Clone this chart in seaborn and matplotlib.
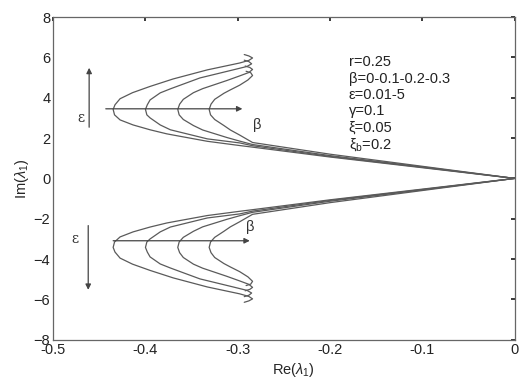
import matplotlib
matplotlib.use("Agg")
import matplotlib.pyplot as plt
import seaborn as sns
import pandas as pd

# Eigenvalue loci (upper branch, epsilon increasing from the origin outward)
re_b0 = [0, -0.10, -0.20, -0.284, -0.298, -0.333, -0.370, -0.377, -0.395, -0.4134, -0.4275, -0.4335, -0.435,
         -0.433, -0.4275, -0.414, -0.395, -0.370, -0.333, -0.298, -0.288, -0.284, -0.288, -0.293]
im_b0 = [0, 0.53, 1.06, 1.55, 1.63, 1.84, 2.15, 2.21, 2.41, 2.65, 2.90, 3.15, 3.42,
         3.65, 3.95, 4.25, 4.56, 4.93, 5.38, 5.72, 5.85, 5.97, 6.07, 6.14]

re_b1 = [0, -0.10, -0.20, -0.284, -0.298, -0.333, -0.373, -0.384, -0.395, -0.3985, -0.400,
         -0.398, -0.395, -0.384, -0.373, -0.341, -0.305, -0.290, -0.285, -0.288, -0.293]
im_b1 = [0, 0.55, 1.09, 1.62, 1.76, 1.96, 2.41, 2.65, 3.00, 3.15, 3.42,
         3.65, 3.89, 4.24, 4.44, 4.98, 5.38, 5.55, 5.68, 5.79, 5.86]

re_b2 = [0, -0.10, -0.20, -0.284, -0.298, -0.312, -0.338, -0.348, -0.359, -0.3635, -0.365,
         -0.363, -0.359, -0.348, -0.338, -0.312, -0.298, -0.288, -0.284, -0.287, -0.292]
im_b2 = [0, 0.57, 1.13, 1.68, 1.85, 2.03, 2.40, 2.62, 2.92, 3.15, 3.42,
         3.68, 3.92, 4.25, 4.45, 4.85, 5.08, 5.25, 5.40, 5.50, 5.57]

re_b3 = [0, -0.10, -0.20, -0.284, -0.298, -0.308, -0.315, -0.325, -0.3295, -0.331,
         -0.329, -0.325, -0.315, -0.308, -0.298, -0.289, -0.284, -0.286, -0.291]
im_b3 = [0, 0.60, 1.20, 1.78, 2.15, 2.40, 2.62, 2.92, 3.15, 3.42,
         3.68, 3.92, 4.22, 4.39, 4.62, 4.88, 5.10, 5.24, 5.31]

betas = ["0", "0.1", "0.2", "0.3"]
params = ["r=0.25", "β=0-0.1-0.2-0.3", "ε=0.01-5", "γ=0.1", "ξ=0.05", "ξ$_\\mathrm{b}$=0.2"]

xticks = [-0.5, -0.4, -0.3, -0.2, -0.1, 0]
xticklabels = ["-0.5", "-0.4", "-0.3", "-0.2", "-0.1", "0"]
yticks = [-8, -6, -4, -2, 0, 2, 4, 6, 8]

rows = []
for b, re, im in zip(betas, [re_b0, re_b1, re_b2, re_b3], [im_b0, im_b1, im_b2, im_b3]):
    for k, (a, c) in enumerate(zip(re, im)):
        rows.append({"beta": b, "unit": b + "up", "re": a, "im": c})
        rows.append({"beta": b, "unit": b + "low", "re": a, "im": -c})
df = pd.DataFrame(rows)

sns.set_theme(style="white")
plt.rcParams["font.family"] = ["Liberation Sans", "DejaVu Sans"]
plt.rcParams["mathtext.fontset"] = "custom"
plt.rcParams["mathtext.rm"] = "Liberation Sans"
plt.rcParams["mathtext.it"] = "Liberation Sans:italic"

fig = plt.figure(figsize=(5.21, 3.78), dpi=100)
ax = fig.add_axes([0.102, 0.101, 0.886, 0.854])

sns.lineplot(data=df, x="re", y="im", units="unit", estimator=None, sort=False,
             color="#5a5a5a", linewidth=0.9, ax=ax, legend=False)

ax.set_xlim(-0.5, 0)
ax.set_ylim(-8, 8)
ax.set_xticks(xticks)
ax.set_xticklabels(xticklabels)
ax.set_yticks(yticks)
ax.tick_params(direction="in", length=3, labelsize=10.5, colors="#222222", pad=2)
ax.tick_params(axis="both", which="both", top=True, right=True)
for s in ax.spines.values():
    s.set_color("#666666")
    s.set_linewidth(0.9)

ax.set_xlabel("Re($\\lambda_1$)", fontsize=10.5, labelpad=1)
ax.set_ylabel("Im($\\lambda_1$)", fontsize=10.5, labelpad=2)
ax.xaxis.set_label_coords(0.52, -0.065)

arrow_kw = dict(arrowstyle="-|>", color="#444444", lw=0.9, mutation_scale=8)
# epsilon arrows
ax.annotate("", xy=(-0.461, 5.62), xytext=(-0.461, 2.4), arrowprops=arrow_kw)
ax.annotate("", xy=(-0.462, -5.66), xytext=(-0.462, -2.2), arrowprops=arrow_kw)
# beta arrows
ax.annotate("", xy=(-0.292, 3.45), xytext=(-0.446, 3.45), arrowprops=arrow_kw)
ax.annotate("", xy=(-0.284, -3.09), xytext=(-0.438, -3.09), arrowprops=arrow_kw)

ax.text(-0.470, 3.0, "ε", fontsize=10, family="DejaVu Serif", color="#333333", ha="center", va="center")
ax.text(-0.476, -3.0, "ε", fontsize=10, family="DejaVu Serif", color="#333333", ha="center", va="center")
ax.text(-0.279, 2.65, "β", fontsize=10.5, color="#333333", ha="center", va="center")
ax.text(-0.286, -2.4, "β", fontsize=10.5, color="#333333", ha="center", va="center")

ys = [5.77, 4.93, 4.12, 3.33, 2.52, 1.70]
for t, yy in zip(params, ys):
    ax.text(-0.180, yy, t, fontsize=10.5, color="#222222", ha="left", va="center")

fig.savefig("out.png", dpi=100)
